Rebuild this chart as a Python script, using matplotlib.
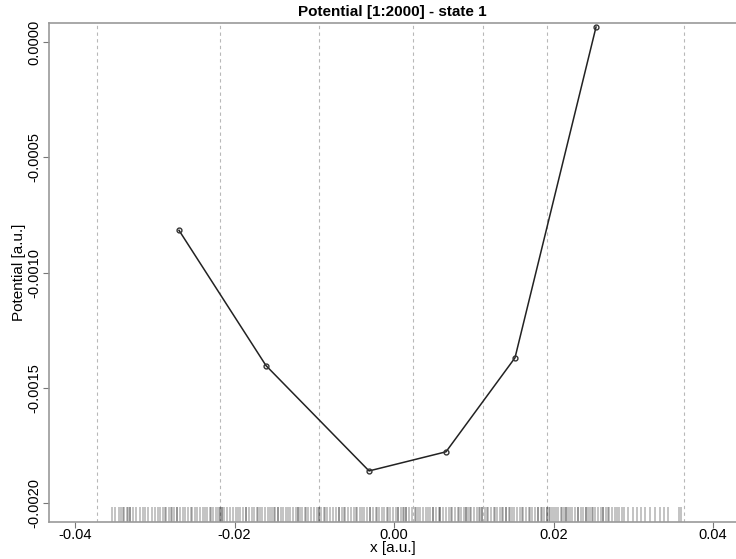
import numpy as np
import matplotlib
matplotlib.use("Agg")
import matplotlib.pyplot as plt
import matplotlib.transforms as mtransforms

plt.rcParams['font.family'] = ['Liberation Sans', 'DejaVu Sans']

# potential curve (state 1)
pot_x = [-0.02696, -0.01605, -0.00313, 0.00652, 0.01517, 0.02533]
pot_y = [-0.000817, -0.001404, -0.001861, -0.001778, -0.001370, 0.0000652]

# vertical dashed reference lines
vlines_x = [-0.03724, -0.02182, -0.0094, 0.00238, 0.01116, 0.01918, 0.03636]

# sample positions shown as rug
rug_x = [
    -0.0354, -0.0350, -0.0345, -0.0342, -0.0340, -0.0335, -0.0334, -0.0331, -0.0327, -0.0324,
    -0.0319, -0.0315, -0.0309, -0.0303, -0.0300, -0.0296, -0.0293, -0.0290, -0.0287, -0.0286,
    -0.0282, -0.0278, -0.0276, -0.0272, -0.0268, -0.0265, -0.0262, -0.0258, -0.0253, -0.0250,
    -0.0247, -0.0243, -0.0240, -0.0237, -0.0235, -0.0231, -0.0227, -0.0223, -0.0221, -0.0218,
    -0.0216, -0.0213, -0.0209, -0.0206, -0.0202, -0.0198, -0.0193, -0.0189, -0.0186, -0.0182,
    -0.0178, -0.0176, -0.0172, -0.0168, -0.0166, -0.0162, -0.0158, -0.0155, -0.0153, -0.0149,
    -0.0145, -0.0142, -0.0139, -0.0135, -0.0130, -0.0127, -0.0123, -0.0120, -0.0118, -0.0115,
    -0.0112, -0.0108, -0.0104, -0.0100, -0.0097, -0.0094, -0.0092, -0.0088, -0.0084, -0.0080,
    -0.0076, -0.0073, -0.0069, -0.0065, -0.0061, -0.0058, -0.0054, -0.0050, -0.0046, -0.0043,
    -0.0040, -0.0038, -0.0034, -0.0030, -0.0026, -0.0023, -0.0019, -0.0015, -0.0013, -0.0009,
    -0.0005, -0.0001, 0.0003, 0.0005, 0.0009, 0.0011, 0.0015, 0.0019, 0.0023, 0.0026,
    0.0030, 0.0033, 0.0036, 0.0040, 0.0045, 0.0049, 0.0053, 0.0058, 0.0061, 0.0065,
    0.0069, 0.0073, 0.0076, 0.0080, 0.0084, 0.0088, 0.0090, 0.0093, 0.0097, 0.0100,
    0.0104, 0.0108, 0.0110, 0.0114, 0.0118, 0.0122, 0.0125, 0.0129, 0.0133, 0.0137,
    0.0140, 0.0144, 0.0148, 0.0150, 0.0154, 0.0158, 0.0162, 0.0166, 0.0169, 0.0173,
    0.0177, 0.0181, 0.0184, 0.0188, 0.0192, 0.0194, 0.0198, 0.0201, 0.0203, 0.0206,
    0.0209, 0.0213, 0.0216, 0.0218, 0.0223, 0.0227, 0.0231, 0.0237, 0.0241, 0.0243,
    0.0246, 0.0248, 0.0252, 0.0256, 0.0260, 0.0262, 0.0266, 0.0270, 0.0273, 0.0277,
    0.0282, 0.0286, 0.0288, 0.0293, 0.0300, 0.0305, 0.0310, 0.0315, 0.0321, 0.0327,
    0.0334, 0.0339, 0.0344, 0.0357, 0.0360,
    # denser/darker spots
    -0.0331, -0.0272, -0.0218, -0.0216, -0.0186, -0.0145, -0.0120, -0.0094, -0.0069, -0.0030,
    0.0005, 0.0015, 0.0049, 0.0058, 0.0090, 0.0110, 0.0140, 0.0181, 0.0192, 0.0216,
    0.0231, 0.0241, 0.0262,
    -0.0338, -0.0312, -0.0280, -0.0255, -0.0229, -0.0196, -0.0170, -0.0151, -0.0133, -0.0110,
    -0.0086, -0.0063, -0.0048, -0.0021, -0.0007, 0.0013, 0.0028, 0.0043, 0.0056, 0.0071,
    0.0082, 0.0095, 0.0106, 0.0116, 0.0127, 0.0135, 0.0146, 0.0160, 0.0171, 0.0186,
    0.0196, 0.0211, 0.0221, 0.0234, 0.0250, 0.0268, 0.0280,
]

x_ticks = [-0.04, -0.02, 0.00, 0.02, 0.04]
y_ticks = [0.0000, -0.0005, -0.0010, -0.0015, -0.0020]

fig = plt.figure(figsize=(7.36, 5.59), dpi=100)
ax = fig.add_axes([49/736, 1 - 522/559, 1 - 49/736, (522 - 23)/559])

for xv in vlines_x:
    ax.axvline(xv, color="#b8b8b8", lw=0.8, ls=(0, (3, 3)), zorder=1)

trans = mtransforms.blended_transform_factory(ax.transData, ax.transAxes)
ax.vlines(rug_x, 0, 15/499, transform=trans, color="black", alpha=0.3, lw=1.1, zorder=2)

ax.plot(pot_x, pot_y, "-", color="#222222", lw=1.1, zorder=3)
ax.plot(pot_x, pot_y, "o", mfc="none", mec="#333333", ms=3.5, mew=1.0, zorder=4)

ax.set_xlim(-0.04326, 0.04288)
ax.set_ylim(-0.0020826, 0.0000826)

ax.set_xticks(x_ticks)
ax.set_xticklabels(["%.2f" % v for v in x_ticks])
ax.set_yticks(y_ticks)
ax.set_yticklabels(["%.4f" % v for v in y_ticks], rotation=90, va="center")
ax.tick_params(axis="both", direction="out", length=4, width=0.8, color="#777777",
               labelsize=10.5, labelcolor="black", pad=1.5)
ax.tick_params(axis="x", pad=0.5)

for s in ["left", "bottom", "top"]:
    ax.spines[s].set_color("#999999")
    ax.spines[s].set_linewidth(1.2)
ax.spines["right"].set_visible(False)

ax.set_title("Potential [1:2000] - state 1", fontsize=11, fontweight="bold", pad=5)
ax.set_xlabel("x [a.u.]", fontsize=11)
ax.xaxis.set_label_coords(0.5, -0.038)
ax.set_ylabel("Potential [a.u.]", fontsize=11, labelpad=1)

fig.savefig("out.png", dpi=100)
